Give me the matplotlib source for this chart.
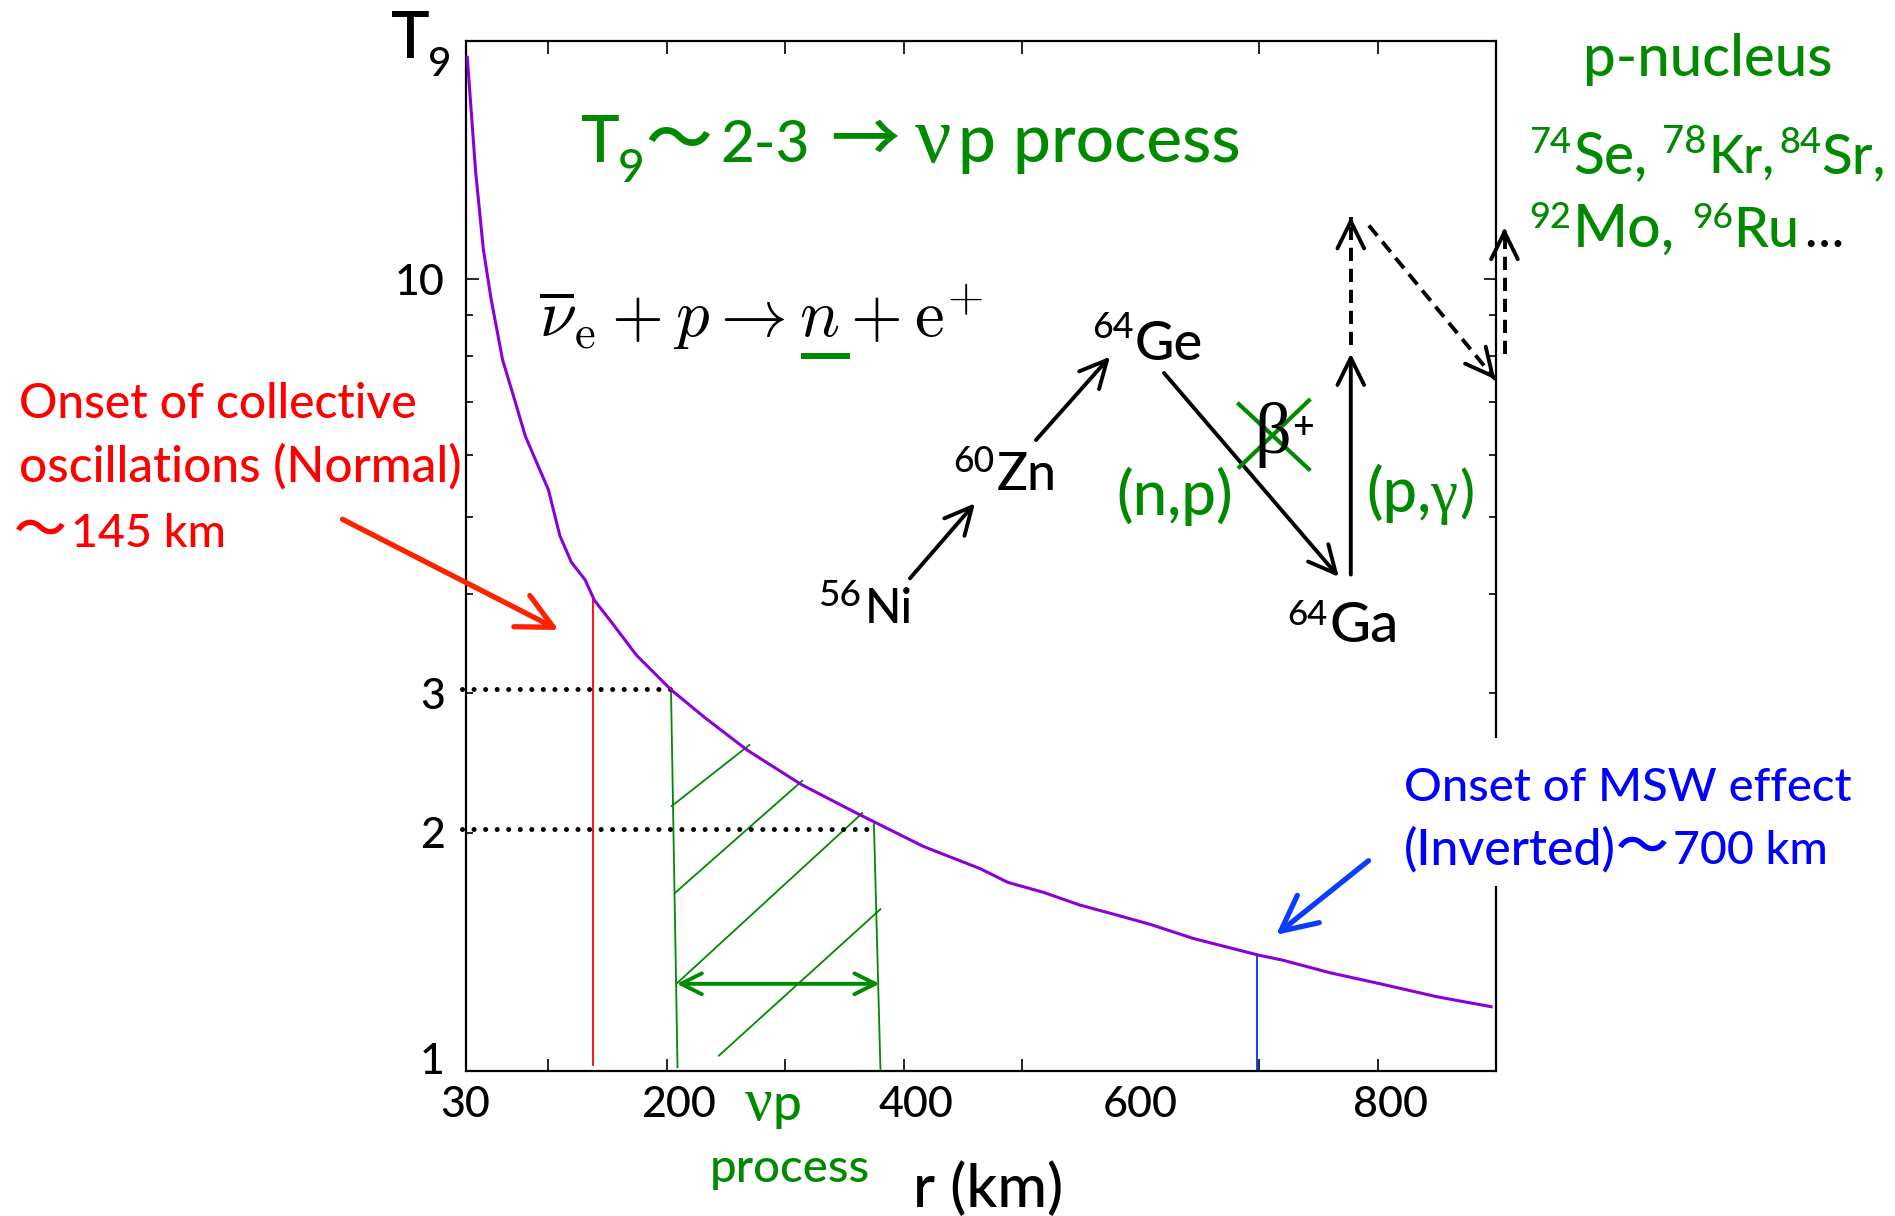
import matplotlib
matplotlib.use('Agg')
import matplotlib.pyplot as plt
from matplotlib.patches import FancyArrowPatch, Rectangle
from matplotlib.lines import Line2D
from matplotlib.ticker import FixedLocator, FixedFormatter
import matplotlib.transforms as mtransforms

W, H = 1895, 1216
SANS = ['Lato', 'Noto Sans CJK JP', 'DejaVu Sans']
SERIF = ['Liberation Serif', 'DejaVu Serif']
CJK = ['Noto Sans CJK JP', 'DejaVu Sans']
plt.rcParams['font.family'] = SANS
plt.rcParams['font.weight'] = 500

GREEN = '#008a00'
PURPLE = '#8b00d6'

# ---------------- data ----------------
r_km = [31.5, 38.6, 45.0, 51.5, 61.3, 71.0, 80.6, 100.0, 104.8, 109.7, 119.4,
        131.0, 138.8, 154.9, 174.3, 203.5, 232.5, 268.1, 313.4, 361.8, 416.8,
        464.6, 487.9, 518.2, 548.4, 578.6, 608.8, 644.1, 699.5, 719.6, 759.9,
        800.2, 850.5, 895.9]
T9 = [19.07, 13.65, 10.93, 9.46, 7.91, 7.08, 6.33, 5.42, 5.07, 4.74, 4.39,
      4.17, 3.93, 3.66, 3.35, 3.03, 2.79, 2.54, 2.30, 2.11, 1.92,
      1.80, 1.73, 1.68, 1.62, 1.575, 1.53, 1.47, 1.40, 1.38, 1.33,
      1.29, 1.24, 1.205]

dotted_T = [3.04, 2.02]
dotted_r_end = [203.5, 375.0]

vp_left_r = [203.5, 209.0]
vp_left_T = [3.03, 1.01]
vp_right_r = [374.8, 380.3]
vp_right_T = [2.05, 1.006]
hatch_r0 = [204.1, 206.7, 208.3, 243.9]
hatch_T0 = [2.16, 1.677, 1.289, 1.045]
hatch_r1 = [269.7, 314.3, 365.0, 380.3]
hatch_T1 = [2.58, 2.325, 2.116, 1.60]
vp_range_r = [208.3, 379.6]
vp_range_T = 1.288

collective_r = 137.9
collective_T = [1.018, 3.98]
msw_r = 698.5
msw_T = [1.0, 1.40]

x_minor_ticks = [100, 200, 300, 400, 500, 600, 700, 800]
x_label_pos = [30, 210, 410, 600, 811]
x_labels = ['30', '200', '400', '600', '800']
y_major_ticks = [1, 10]
y_major_labels = ['1', '10']
y_minor_ticks = [2, 3, 4, 5, 6, 7, 8, 9]
y_minor_labels = ['2', '3', '', '', '', '', '', '']

# ---------------- figure ----------------
fig = plt.figure(figsize=(W / 100, H / 100), dpi=100)
renderer = fig.canvas.get_renderer()


def fx(X):
    return X / W


def fy(Y):
    return 1 - Y / H


ax = fig.add_axes([fx(465.5), fy(1070.8), (1496 - 465.5) / W, (1070.8 - 40.9) / H])
ax.set_yscale('log')
ax.set_xlim(30, 900)
ax.set_ylim(1, 20)

ax.plot(r_km, T9, color=PURPLE, lw=2.2, zorder=5)
for T, r1 in zip(dotted_T, dotted_r_end):
    ax.plot([27, r1], [T, T], color='black', lw=3.6, ls=(0, (0.01, 2.3)),
            dash_capstyle='round', clip_on=False, zorder=4)
ax.plot(vp_left_r, vp_left_T, color=GREEN, lw=1.3)
ax.plot(vp_right_r, vp_right_T, color=GREEN, lw=1.3)
for a, b, c, d in zip(hatch_r0, hatch_T0, hatch_r1, hatch_T1):
    ax.plot([a, c], [b, d], color=GREEN, lw=1.3)
ax.annotate('', xy=(vp_range_r[1], vp_range_T), xytext=(vp_range_r[0], vp_range_T),
            arrowprops=dict(arrowstyle='<->,head_length=0.6,head_width=0.3',
                            color=GREEN, lw=2.8, shrinkA=0, shrinkB=0, mutation_scale=25))
ax.plot([collective_r, collective_r], collective_T, color='#ff0000', lw=1.3)
ax.plot([msw_r, msw_r], msw_T, color='#0033ff', lw=1.3)

for s in ax.spines.values():
    s.set_linewidth(1.6)

ax.xaxis.set_major_locator(FixedLocator(x_label_pos))
ax.xaxis.set_major_formatter(FixedFormatter(x_labels))
ax.xaxis.set_minor_locator(FixedLocator(x_minor_ticks))
ax.yaxis.set_major_locator(FixedLocator(y_major_ticks))
ax.yaxis.set_major_formatter(FixedFormatter(y_major_labels))
ax.yaxis.set_minor_locator(FixedLocator(y_minor_ticks))
ax.yaxis.set_minor_formatter(FixedFormatter(y_minor_labels))

ax.tick_params(axis='x', which='major', length=0, labelsize=31, pad=11)
ax.tick_params(axis='x', which='minor', direction='in', length=9, width=1.2,
               top=True, bottom=True)
ax.tick_params(axis='y', which='major', direction='in', length=9, width=1.2,
               left=True, right=True, labelsize=31, pad=15)
ax.tick_params(axis='y', which='minor', direction='in', length=4.7, width=1.2,
               left=True, right=True, labelsize=31, pad=15)

# shift the "1" label up a little as in the reference
lab = ax.yaxis.get_major_ticks()[0].label1
lab.set_transform(lab.get_transform() +
                  mtransforms.ScaledTranslation(0, 12 / 100, fig.dpi_scale_trans))


# ---------------- text helpers ----------------
def put(X, Y, s, size=30, right=None, color='black', family=SANS, **kw):
    t = fig.text(fx(X), fy(Y), s, fontsize=size, color=color, family=family,
                 ha='left', va='baseline', zorder=5, **kw)
    if right is not None:
        bb = t.get_window_extent(renderer=renderer)
        t.set_fontsize(size * (right - X) / bb.width)
    return t


def arrow(p0, p1, color='black', lw=2.8, ms=30, hl=0.65, hw=0.32):
    a = FancyArrowPatch((fx(p0[0]), fy(p0[1])), (fx(p1[0]), fy(p1[1])),
                        transform=fig.transFigure,
                        arrowstyle=f'->,head_length={hl},head_width={hw}',
                        mutation_scale=ms, color=color, lw=lw,
                        shrinkA=0, shrinkB=0, zorder=4)
    fig.add_artist(a)


def dashed_arrow(p0, p1, color='black', lw=2.8):
    fig.add_artist(Line2D([fx(p0[0]), fx(p1[0])], [fy(p0[1]), fy(p1[1])],
                          transform=fig.transFigure, color=color, lw=lw,
                          ls=(0, (3.4, 2.0)), zorder=4))
    dx, dy = p1[0] - p0[0], p1[1] - p0[1]
    n = (dx * dx + dy * dy) ** 0.5
    q = (p1[0] - 6 * dx / n, p1[1] - 6 * dy / n)
    arrow(q, p1, color=color, lw=lw)


def fline(p0, p1, color, lw):
    fig.add_artist(Line2D([fx(p0[0]), fx(p1[0])], [fy(p0[1]), fy(p1[1])],
                          transform=fig.transFigure, color=color, lw=lw,
                          solid_capstyle='butt', zorder=5))


# white box hiding the right spine behind the MSW text
fig.add_artist(Rectangle((fx(1398), fy(886)), (1860 - 1398) / W, (886 - 738) / H,
                         transform=fig.transFigure, facecolor='white',
                         edgecolor='none', zorder=2))

# axis labels
put(391, 58, 'T', size=47)
put(428, 76.5, '9', size=29)
put(913, 1206.7, 'r (km)', size=40, right=1063)

# title
put(581.4, 161.7, 'T', size=47, color=GREEN)
put(618, 181.7, '9', size=33, color=GREEN)
put(645, 161.7, '〜', size=48, color=GREEN, family=CJK)
put(720.7, 161.7, '2-3', size=46, right=810, color=GREEN)
put(830, 161.7, '→', size=50, color=GREEN, family=CJK)
put(915, 161.7, 'ν', size=58, color=GREEN, family=SERIF)
put(958, 161.7, 'p process', size=46, right=1240.8, color=GREEN)

# equation
put(539, 336.8, r'$\overline{\nu}_{\mathrm{e}} + p \rightarrow n + \mathrm{e}^{+}$',
    size=44, right=983, math_fontfamily='cm')
fline((800.7, 355.7), (850, 355.7), GREEN, 4.3)

# reaction network
put(1091.7, 338.3, '64', size=26, right=1133)
put(1135, 360, 'Ge', size=40, right=1203.3)
put(953.3, 471.7, '60', size=26, right=994.5)
put(996.7, 490, 'Zn', size=40, right=1056.7)
put(818.3, 606, '56', size=26, right=861.5)
put(865, 623.3, 'Ni', size=40, right=913)
put(1287.5, 624.5, '64', size=26, right=1328)
put(1329.7, 642, 'Ga', size=40, right=1399)

arrow((910, 578.3), (975, 503.3))
arrow((1036, 440), (1110, 356.7))
arrow((1164, 373), (1338.7, 576.8))
arrow((1350.8, 574.6), (1350.8, 353.5))
dashed_arrow((1350.8, 344.8), (1350.8, 216.9))
dashed_arrow((1368.9, 225.5), (1495.4, 379.5))
dashed_arrow((1504.5, 353.5), (1504.5, 227.7))

put(1254, 453, 'β', size=52, family=SERIF)
put(1292, 438, '+', size=27)
fline((1237.3, 402.7), (1310.4, 470.6), GREEN, 3)
fline((1238, 468.4), (1310.4, 399), GREEN, 3)

put(1116.7, 515, '(n,p)', size=38, right=1233.3, color=GREEN)
put(1365.9, 511.8, '(p,', size=38, right=1431, color=GREEN)
put(1430, 511.8, 'γ', size=44, color=GREEN, family=SERIF)
put(1459, 511.8, ')', size=40, color=GREEN)

# p-nuclei
put(1582.8, 75.9, 'p-nucleus', size=38, right=1832.9, color=GREEN)
put(1529, 153.3, '74', size=26, right=1571, color=GREEN)
put(1573, 173, 'Se,', size=40, right=1647, color=GREEN)
put(1661.7, 153.3, '78', size=26, right=1706, color=GREEN)
put(1708, 173, 'Kr,', size=40, right=1774, color=GREEN)
put(1779, 153.3, '84', size=26, right=1821, color=GREEN)
put(1821.7, 173, 'Sr,', size=40, right=1886, color=GREEN)
put(1529, 227.7, '92', size=26, right=1571, color=GREEN)
put(1573, 246.7, 'Mo,', size=40, right=1675, color=GREEN)
put(1692, 227.7, '96', size=26, right=1733, color=GREEN)
put(1733, 246.7, 'Ru', size=40, right=1799, color=GREEN)
put(1804, 246.7, '…', size=40, right=1843, color='black')

# collective oscillations (red)
RED = '#ff0000'
put(19.1, 418.3, 'Onset of collective', size=36, right=417, color=RED)
put(19.1, 481.7, 'oscillations (Normal)', size=36, right=461, color=RED)
put(14, 546.7, '〜', size=38, color=RED, family=CJK)
put(70.8, 546.7, '145 km', size=36, right=225.8, color=RED)
arrow((342.5, 519.3), (558.7, 630), color='#ff2200', lw=3.8, ms=30, hl=0.85, hw=0.42)

# MSW (blue)
BLUE = '#0000ff'
put(1404.2, 801, 'Onset of MSW effect', size=36, right=1851.5, color=BLUE)
put(1404.2, 864, '(Inverted)', size=36, right=1616, color=BLUE)
put(1616, 864, '〜', size=38, color=BLUE, family=CJK)
put(1672.6, 864, '700 km', size=36, right=1827.6, color=BLUE)
arrow((1368.5, 860.7), (1276, 934.9), color='#0a3cff', lw=3.8, ms=30, hl=0.85, hw=0.42)

# bottom labels
put(745, 1120, 'ν', size=44, color=GREEN, family=SERIF)
put(772, 1120, 'p', size=37, color=GREEN)
put(710, 1181.7, 'process', size=36, right=870, color=GREEN)

fig.savefig('out.png', dpi=100)
